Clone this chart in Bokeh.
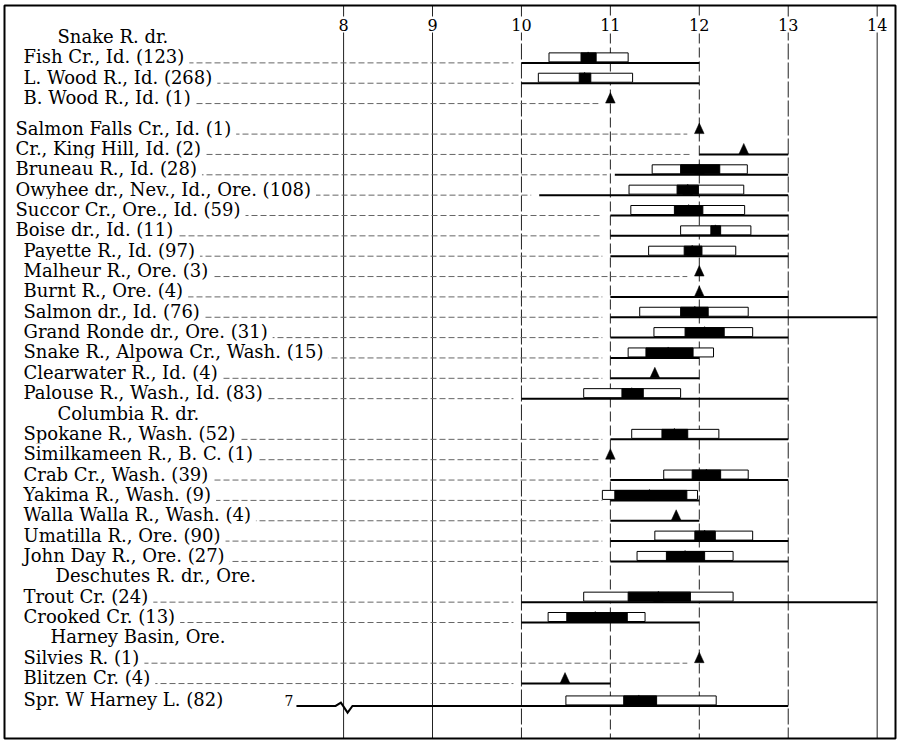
from bokeh.plotting import figure
from bokeh.models import Range1d, ColumnDataSource
from bokeh.core.properties import value
from bokeh.embed import file_html
from bokeh.resources import INLINE

# ---------------- data ----------------
labels = [
    "Fish Cr., Id. (123)", "L. Wood R., Id. (268)", "B. Wood R., Id. (1)",
    "Salmon Falls Cr., Id. (1)", "Cr., King Hill, Id. (2)", "Bruneau R., Id. (28)",
    "Owyhee dr., Nev., Id., Ore. (108)", "Succor Cr., Ore., Id. (59)", "Boise dr., Id. (11)",
    "Payette R., Id. (97)", "Malheur R., Ore. (3)", "Burnt R., Ore. (4)",
    "Salmon dr., Id. (76)", "Grand Ronde dr., Ore. (31)", "Snake R., Alpowa Cr., Wash. (15)",
    "Clearwater R., Id. (4)", "Palouse R., Wash., Id. (83)",
    "Spokane R., Wash. (52)", "Similkameen R., B. C. (1)", "Crab Cr., Wash. (39)",
    "Yakima R., Wash. (9)", "Walla Walla R., Wash. (4)", "Umatilla R., Ore. (90)",
    "John Day R., Ore. (27)",
    "Trout Cr. (24)", "Crooked Cr. (13)",
    "Silvies R. (1)", "Blitzen Cr. (4)", "Spr. W Harney L. (82)",
]
headers = ["Snake R. dr.", "Columbia R. dr.", "Deschutes R. dr., Ore.", "Harney Basin, Ore."]
header_before = [0, 17, 24, 26]

N = None
rng_min = [10.0, 10.0, N, N, 12.0, 11.05, 10.2, 11.0, 11.0, 11.0, N, 11.0, 11.0, 11.0, 11.0,
           11.0, 10.0, 11.0, N, 11.0, 11.0, 11.0, 11.0, 11.0, 10.0, 10.0, N, 10.0, 7.0]
rng_max = [12.0, 12.0, N, N, 13.0, 13.0, 13.0, 13.0, 13.0, 13.0, N, 13.0, 14.0, 13.0, 12.0,
           12.0, 13.0, 13.0, N, 13.0, 12.0, 12.0, 13.0, 13.0, 14.0, 12.0, N, 11.0, 13.0]
box_lo = [10.31, 10.19, N, N, N, 11.47, 11.21, 11.23, 11.79, 11.43, N, N, 11.33, 11.49, 11.20,
          N, 10.70, 11.24, N, 11.60, 10.91, N, 11.50, 11.30, 10.70, 10.30, N, N, 10.50]
box_hi = [11.20, 11.25, N, N, N, 12.54, 12.50, 12.51, 12.58, 12.41, N, N, 12.55, 12.60, 12.16,
          N, 11.79, 12.22, N, 12.55, 11.98, N, 12.60, 12.38, 12.38, 11.39, N, N, 12.19]
blk_lo = [10.67, 10.65, N, N, N, 11.79, 11.75, 11.72, 12.13, 11.83, N, N, 11.79, 11.84, 11.40,
          N, 11.13, 11.58, N, 11.92, 11.05, N, 11.95, 11.63, 11.20, 10.51, N, N, 11.15]
blk_hi = [10.84, 10.78, N, N, N, 12.23, 11.99, 12.04, 12.24, 12.03, N, N, 12.10, 12.28, 11.93,
          N, 11.37, 11.87, N, 12.24, 11.86, N, 12.18, 12.06, 11.90, 11.19, N, N, 11.52]
mean = [10.75, 10.71, 11.0, 12.0, 12.5, 12.0, 11.87, 11.88, 12.18, 11.92, 12.0, 12.0, 11.95,
        12.06, 11.65, 11.5, 11.24, 11.72, 11.0, 12.08, 11.44, 11.74, 12.06, 11.84, 11.54,
        10.83, 12.0, 10.49, 11.32]
ticks = [8, 9, 10, 11, 12, 13, 14]
tick_dash = ["solid", "solid", "16 3", "10 4", "10 4", "16 3", "solid"]
break_value = 7          # axis is broken between 7 and 8 for the last row

# ---------------- layout ----------------
W, H = 900, 742
PX_X = 88.93            # pixels per unit on x
PX_Y = 20.35            # pixels per row slot
x0 = 11 - 609.87 / PX_X
x1 = x0 + W / PX_X
y_top = 10.5 - 255.7 / PX_Y
y_bot = y_top + H / PX_Y


def sx(px):
    return x0 + px / PX_X


def sy(px):
    return y_top + px / PX_Y


# row slots
slots, head_slots = [], []
pos = 0.0
extra_gap = {3: 0.5, 28: 0.1}
for i in range(len(labels)):
    if i in header_before:
        head_slots.append(pos)
        pos += 1
    pos += extra_gap.get(i, 0)
    slots.append(pos)
    pos += 1

indent = [23] * len(labels)
for i in range(3, 9):
    indent[i] = 15
head_indent = [57, 57, 55, 50]

FONT = value("DejaVu Serif")
LBL_SIZE = "18px"

p = figure(width=W, height=H, output_backend="svg", toolbar_location=None,
           x_range=Range1d(x0, x1), y_range=Range1d(y_bot, y_top),
           x_axis_location=None, y_axis_location=None, min_border=0,
           background_fill_color="white", border_fill_color="white")
p.grid.visible = False
p.outline_line_color = None

frame_top, frame_bot = sy(5), sy(738)

# vertical reference lines
for t, d in zip(ticks, tick_dash):
    p.segment(x0=[t], x1=[t], y0=[frame_top], y1=[frame_bot], line_color="#222",
              line_width=1, line_dash=d)

# leaders from label to first mark
lx0, lx1, ly = [], [], []
for i in range(len(labels)):
    if rng_min[i] is not None and rng_min[i] < 8:
        continue
    start = sx(indent[i] + 20)
    if rng_min[i] is not None:
        end = rng_min[i] - 8 / PX_X
    else:
        end = mean[i] - 12 / PX_X
    lx0.append(start); lx1.append(end); ly.append(slots[i])
p.segment(x0=lx0, x1=lx1, y0=ly, y1=ly, line_color="#666", line_width=1, line_dash="6 3")

# range lines
for i in range(len(labels)):
    if rng_min[i] is None:
        continue
    s = slots[i]
    if rng_min[i] < 8:
        bx = 8 - 0.53   # display position of the broken-axis value
        xs = [bx, 7.91, 7.97, 8.045, 8.10, rng_max[i]]
        ys = [s, s, s - 3.3 / PX_Y, s + 6.7 / PX_Y, s, s]
        p.line(xs, ys, line_color="black", line_width=2, line_join="miter")
        p.text(x=[bx], y=[s - 5 / PX_Y], text=[str(break_value)], x_offset=-3,
               text_align="right", text_baseline="middle", text_font=FONT,
               text_font_size="14px", text_color="black")
    else:
        p.segment(x0=[rng_min[i]], x1=[rng_max[i]], y0=[s], y1=[s], line_color="black",
                  line_width=2)

BOX_H = 9 / PX_Y
idx_box = [i for i in range(len(labels)) if box_lo[i] is not None]
p.quad(left=[box_lo[i] for i in idx_box], right=[box_hi[i] for i in idx_box],
       bottom=[slots[i] - 1 / PX_Y for i in idx_box],
       top=[slots[i] - 1 / PX_Y - BOX_H for i in idx_box],
       fill_color="white", line_color="black", line_width=1)
p.quad(left=[blk_lo[i] for i in idx_box], right=[blk_hi[i] for i in idx_box],
       bottom=[slots[i] - 1 / PX_Y for i in idx_box],
       top=[slots[i] - 1 / PX_Y - BOX_H for i in idx_box],
       fill_color="black", line_color="black", line_width=1)

# mean triangles
hw = 4.8 / PX_X
th = 11 / PX_Y
txs = [[m - hw, m + hw, m] for m in mean]
tys = [[s - 0.5 / PX_Y, s - 0.5 / PX_Y, s - th] for s in slots]
p.patches(txs, tys, fill_color="black", line_color="black", line_width=0.5)

# row labels
LBL_UP = 6 / PX_Y
src = ColumnDataSource(dict(x=[x0] * len(labels), y=[s - LBL_UP for s in slots], t=labels,
                            off=indent))
p.text(x="x", y="y", text="t", x_offset="off", source=src, text_font=FONT,
       text_font_size=LBL_SIZE, text_baseline="middle", text_color="black",
       text_line_height=0.85, background_fill_color="white",
       padding=dict(left=0, right=5, top=0, bottom=0))
hsrc = ColumnDataSource(dict(x=[x0] * len(headers), y=[s - LBL_UP for s in head_slots],
                             t=headers, off=head_indent))
p.text(x="x", y="y", text="t", x_offset="off", source=hsrc, text_font=FONT,
       text_font_size=LBL_SIZE, text_baseline="middle", text_color="black")

# tick labels on top
p.text(x=ticks, y=[sy(24)] * len(ticks), text=[str(t) for t in ticks], text_align="center",
       text_baseline="middle", text_font=FONT, text_font_size="16px", text_color="black",
       background_fill_color="white", padding=2)

# frame
p.quad(left=[sx(4)], right=[sx(895)], top=[frame_top], bottom=[frame_bot],
       fill_color=None, line_color="black", line_width=2)

open("out.html", "w").write(file_html(p, INLINE))
